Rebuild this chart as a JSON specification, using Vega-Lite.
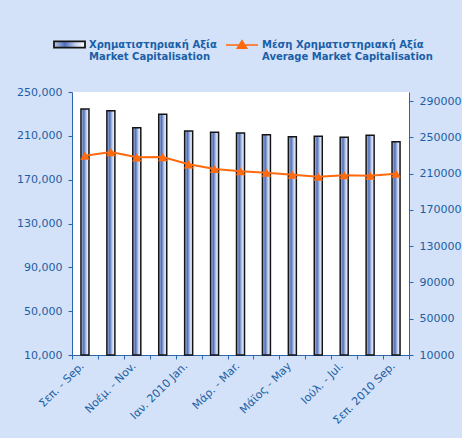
{
  "$schema": "https://vega.github.io/schema/vega-lite/v6.json",
  "width": 337,
  "height": 263,
  "autosize": "none",
  "padding": {"left": 72, "top": 92, "right": 53, "bottom": 83},
  "background": "#d3e2f8",
  "config": {
    "view": {"fill": "#ffffff", "stroke": null},
    "font": "DejaVu Sans",
    "axis": {
      "labelFont": "DejaVu Sans",
      "labelFontSize": 11,
      "labelColor": "#1d5ea3",
      "domainColor": "#2a66ad",
      "tickColor": "#2a66ad",
      "tickSize": 4,
      "grid": false,
      "title": null
    },
    "legend": {
      "orient": "none",
      "title": null,
      "labelFont": "DejaVu Sans",
      "labelFontSize": 10,
      "labelFontWeight": "bold",
      "labelColor": "#1a5fa8",
      "labelLimit": 250,
      "labelBaseline": "top",
      "labelOffset": 3
    }
  },
  "data": {
    "values": [
      {"month": "Σεπ. - Sep.", "cap": 234500, "avg": 229800},
      {"month": "Οκτ. - Oct.", "cap": 232900, "avg": 233800},
      {"month": "Νοέμ. - Nov.", "cap": 217400, "avg": 228000},
      {"month": "Δεκ. - Dec.", "cap": 229700, "avg": 228300},
      {"month": "Ιαν. 2010 Jan.", "cap": 214400, "avg": 220300},
      {"month": "Φεβ. - Feb.", "cap": 213200, "avg": 215100},
      {"month": "Μάρ. - Mar.", "cap": 212600, "avg": 212600},
      {"month": "Απρ. - Apr.", "cap": 211000, "avg": 211000},
      {"month": "Μάϊος - May", "cap": 209200, "avg": 208800},
      {"month": "Ιούν. - Jun.", "cap": 209600, "avg": 206600},
      {"month": "Ιούλ. - Jul.", "cap": 208700, "avg": 208200},
      {"month": "Αύγ. - Aug.", "cap": 210500, "avg": 207700},
      {"month": "Σεπ. 2010 Sep.", "cap": 204700, "avg": 209900}
    ]
  },
  "encoding": {
    "x": {
      "field": "month",
      "type": "nominal",
      "sort": null,
      "scale": {"paddingInner": 0, "paddingOuter": 0},
      "axis": {
        "labelAngle": -45,
        "labelBaseline": "middle",
        "tickBand": "extent",
        "labelExpr": "indexof(['Οκτ. - Oct.','Δεκ. - Dec.','Φεβ. - Feb.','Απρ. - Apr.','Ιούν. - Jun.','Αύγ. - Aug.'], datum.value) >= 0 ? '' : datum.label",
        "labelPadding": 5,
        "labelOffset": -3
      }
    }
  },
  "layer": [
    {
      "mark": {
        "type": "bar",
        "width": 8,
        "strokeWidth": 1.5,
        "fill": {
          "gradient": "linear",
          "x1": 0, "y1": 0, "x2": 1, "y2": 0,
          "stops": [
            {"offset": 0, "color": "#c0cbe6"},
            {"offset": 0.35, "color": "#5070bc"},
            {"offset": 0.7, "color": "#c8d4ee"},
            {"offset": 1, "color": "#ffffff"}
          ]
        }
      },
      "encoding": {
        "y": {
          "field": "cap",
          "type": "quantitative",
          "scale": {"domain": [10000, 250000], "zero": false, "nice": false},
          "axis": {
            "orient": "left",
            "values": [10000, 50000, 90000, 130000, 170000, 210000, 250000],
            "format": ",d",
            "labelPadding": 6
          }
        },
        "y2": {"datum": 10000},
        "stroke": {
          "datum": "Χρηματιστηριακή Αξία",
          "type": "nominal",
          "scale": {"range": ["#141414"]},
          "legend": {
            "legendX": -19,
            "legendY": -69,
            "symbolType": "M-1,0.12H1V0.52H-1Z",
            "symbolSize": 961,
            "symbolStrokeWidth": 1.8,
            "labelExpr": "['Χρηματιστηριακή Αξία', 'Market Capitalisation']"
          }
        }
      }
    },
    {
      "mark": {"type": "line", "strokeWidth": 2},
      "encoding": {
        "y": {
          "field": "avg",
          "type": "quantitative",
          "scale": {"domain": [10000, 300000], "zero": false, "nice": false},
          "axis": {
            "orient": "right",
            "values": [10000, 50000, 90000, 130000, 170000, 210000, 250000, 290000],
            "format": "d",
            "labelPadding": 6
          }
        },
        "stroke": {
          "datum": "Μέση Χρηματιστηριακή Αξία",
          "type": "nominal",
          "scale": {"range": ["#ff6a0e"]},
          "legend": {
            "legendX": 153,
            "legendY": -69,
            "symbolType": "M-1,0.32H1M-0.3,0.52L0,0.04L0.3,0.52Z",
            "symbolSize": 1024,
            "symbolFillColor": "#ff6a0e",
            "symbolStrokeColor": "#ff6a0e",
            "symbolStrokeWidth": 1.5,
            "labelExpr": "['Μέση Χρηματιστηριακή Αξία', 'Average Market Capitalisation']"
          }
        }
      }
    },
    {
      "mark": {"type": "point", "shape": "triangle-up", "filled": true, "size": 90, "color": "#ff6a0e", "opacity": 1},
      "encoding": {
        "y": {"field": "avg", "type": "quantitative", "scale": {"domain": [10000, 300000], "zero": false, "nice": false}, "axis": null}
      }
    }
  ],
  "resolve": {"scale": {"y": "independent", "stroke": "independent"}, "legend": {"stroke": "independent"}}
}
